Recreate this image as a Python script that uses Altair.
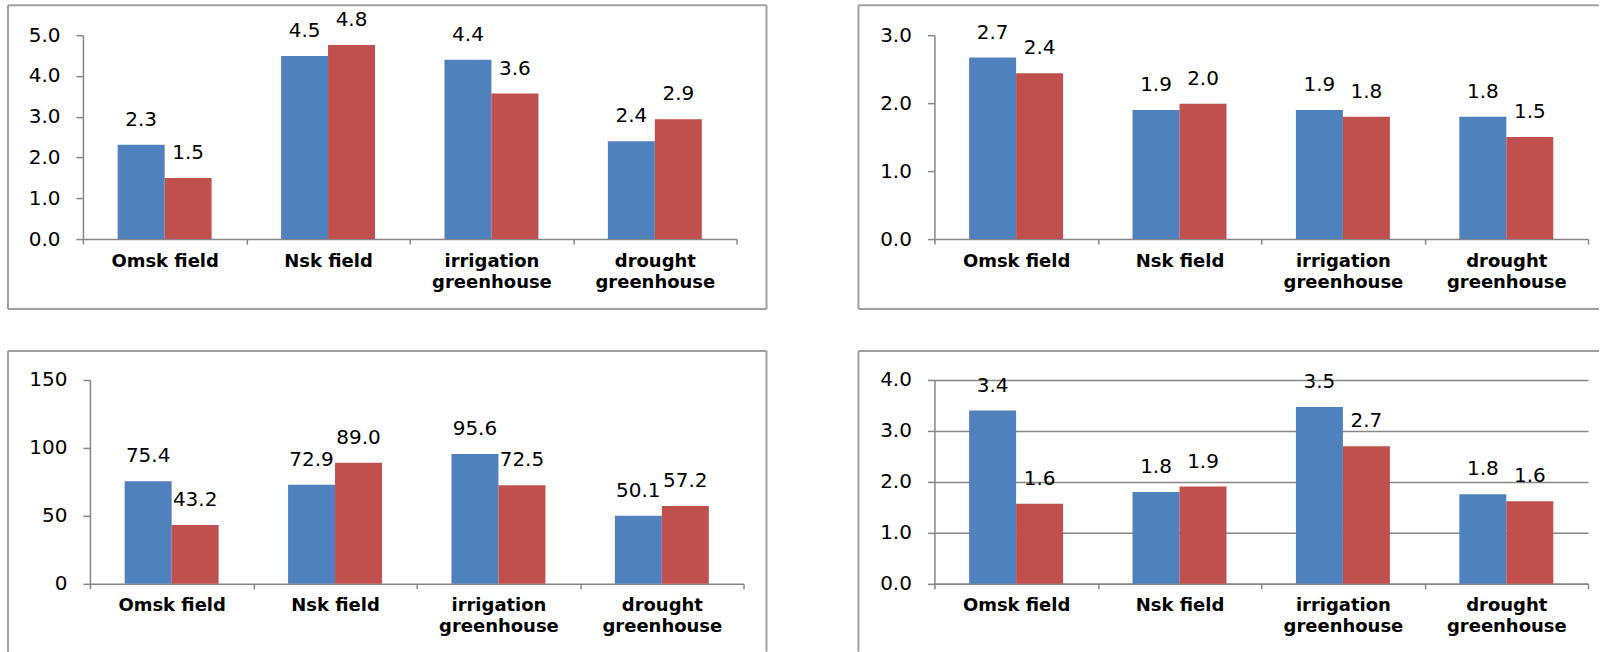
import altair as alt
import pandas as pd

# Categories and series shared by the four panels
sites = ["Omsk field", "Nsk field", "irrigation greenhouse", "drought greenhouse"]
series = ["series 1", "series 2"]
colors = ["#4F81BD", "#C0504D"]

# Panel values (series 1 = blue, series 2 = red)
tl_blue = [2.31, 4.49, 4.40, 2.40]
tl_red = [1.50, 4.76, 3.57, 2.94]
tr_blue = [2.67, 1.90, 1.90, 1.80]
tr_red = [2.44, 1.99, 1.80, 1.50]
bl_blue = [75.4, 72.9, 95.6, 50.1]
bl_red = [43.2, 89.0, 72.5, 57.2]
br_blue = [3.40, 1.80, 3.47, 1.76]
br_red = [1.57, 1.91, 2.70, 1.62]

# Y-axis tick values per panel
tl_ticks = [0, 1, 2, 3, 4, 5]
tr_ticks = [0, 1, 2, 3]
bl_ticks = [0, 50, 100, 150]
br_ticks = [0, 1, 2, 3, 4]

W, H = 654, 204
AXIS_GRAY = "#868686"
FRAME_GRAY = "#A0A0A0"
NUM_FONT = "DejaVu Sans"
CAT_FONT = "DejaVu Sans"


def frame_layers(sides):
    one = pd.DataFrame({"k": [0]})
    out = []
    for x1, x2, y1, y2 in sides:
        out.append(
            alt.Chart(one)
            .mark_rule(color=FRAME_GRAY, strokeWidth=2)
            .encode(x=alt.value(x1), x2=alt.value(x2), y=alt.value(y1), y2=alt.value(y2))
        )
    return out


def panel(blue, red, ticks, fmt, grid, sides, shift=0):
    df = pd.DataFrame(
        {
            "site": sites * 2,
            "series": [series[0]] * 4 + [series[1]] * 4,
            "value": blue + red,
        }
    )
    x = alt.X(
        "site:N",
        sort=sites,
        scale=alt.Scale(range=[shift, shift + W], paddingInner=0, paddingOuter=0),
        axis=alt.Axis(
            title=None,
            grid=False,
            labelAngle=0,
            tickBand="extent",
            tickSize=5,
            labelPadding=8,
            labelFont=CAT_FONT,
            labelFontSize=18,
            labelFontWeight="bold",
            labelColor="#000000",
            labelLineHeight=21,
            labelExpr="indexof(datum.label, 'greenhouse') > 0 ? split(datum.label, ' ') : datum.label",
            domainColor=AXIS_GRAY,
            domainWidth=1.5,
            tickColor=AXIS_GRAY,
            tickWidth=1.5,
        ),
    )
    xo = alt.XOffset(
        "series:N", sort=series, scale=alt.Scale(paddingOuter=0.739, paddingInner=0)
    )
    y = alt.Y(
        "value:Q",
        scale=alt.Scale(domain=[0, ticks[-1]], nice=False, zero=True),
        axis=alt.Axis(
            title=None,
            values=ticks,
            format=fmt,
            grid=grid,
            gridColor=AXIS_GRAY,
            gridWidth=1.5,
            offset=-shift,
            tickSize=7,
            labelPadding=16,
            labelFont=NUM_FONT,
            labelFontSize=20,
            labelColor="#000000",
            domainColor=AXIS_GRAY,
            domainWidth=1.5,
            tickColor=AXIS_GRAY,
            tickWidth=1.5,
        ),
    )
    color = alt.Color(
        "series:N", scale=alt.Scale(domain=series, range=colors), legend=None
    )
    base = alt.Chart(df)
    bars = base.mark_bar().encode(x=x, xOffset=xo, y=y, color=color)
    labels = base.mark_text(
        baseline="alphabetic", dy=-19, font=NUM_FONT, fontSize=20, color="#000000"
    ).encode(x=x, xOffset=xo, y=y, text=alt.Text("value:Q", format=".1f"))
    return alt.layer(bars, labels, *frame_layers(sides)).properties(
        width=W + shift,
        height=H,
        view=alt.ViewBackground(stroke="#FFFFFF", strokeOpacity=0, strokeWidth=0),
    )


# Left column views share one origin; the plot inside is shifted by `shift`
tl = panel(
    tl_blue, tl_red, tl_ticks, ".1f", False,
    [(-68, 691, -30, -30), (-68, 691, 274, 274), (-68, -68, -30, 274), (691, 691, -30, 274)],
    shift=7,
)
tr = panel(
    tr_blue, tr_red, tr_ticks, ".1f", False,
    [(-76, 665, -30, -30), (-76, 665, 274, 274), (-76, -76, -30, 274)],
)
bl = panel(
    bl_blue, bl_red, bl_ticks, "d", False,
    [(-68, 691, -29, -29), (-68, -68, -29, 272), (691, 691, -29, 272)],
    shift=14,
)
br = panel(
    br_blue, br_red, br_ticks, ".1f", True,
    [(-76, 665, -29, -29), (-76, -76, -29, 272)],
)

chart = (
    alt.concat(tl, tr, bl, br, columns=2, spacing={"row": 141, "column": 191}, bounds="flush")
    .properties(padding={"left": 7, "top": 4, "right": 0, "bottom": 0})
    .configure_view(stroke="#FFFFFF", strokeOpacity=0, strokeWidth=0)
    .configure_axis(gridColor=AXIS_GRAY)
    .configure(background="white")
)

chart.save("out.html", embed_options={"renderer": "svg", "actions": False})
